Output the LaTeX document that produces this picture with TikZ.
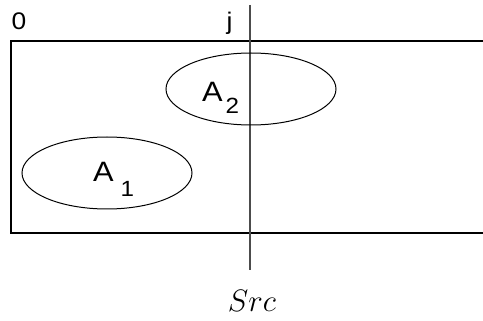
\RequirePackage{fix-cm}
\documentclass[tikz,border=0pt]{standalone}
\usepackage{fontspec}
\setmainfont{Liberation Sans}
\usetikzlibrary{shapes.geometric}
\newcommand{\wide}[1]{\scalebox{1.1}[1]{#1}}
\begin{document}
\begin{tikzpicture}[x=1pt,y=-1pt,
  setbox/.style={draw, ellipse, line width=1pt, minimum width=170pt, minimum height=72pt, inner sep=0pt},
  setname/.style={font=\fontsize{28}{28}\selectfont, inner sep=0pt, anchor=base west},
  idx/.style={font=\fontsize{24}{24}\selectfont, inner sep=0pt, anchor=base}]
  \useasboundingbox (0,0) rectangle (483,321);
  \clip (0,0) rectangle (483,321);
  % array frame, open on the right
  \draw[line width=1.7pt] (11,41) rectangle (500,233);
  % column j
  \coordinate (jtop) at (250,5);
  \coordinate (jbot) at (250,270);
  \draw[line width=1.3pt, black!70] (jtop) -- (jbot);
  \node[idx] (zero) at (19,30) {\wide{0}};
  \node[idx] (jcol) at (229.5,30) {\wide{j}};
  % the two sets
  \node[setbox] (a2) at (251,89) {};
  \node[setbox] (a1) at (107,173) {};
  \node[setname] (a2name) at (202,102) {\wide{A}\hspace{3pt}\raisebox{-11.5pt}{\fontsize{22}{22}\selectfont\wide{2}}};
  \node[setname] (a1name) at (93,182) {\wide{A}\hspace{7pt}\raisebox{-14.5pt}{\fontsize{22}{22}\selectfont\wide{1}}};
  \node[font=\fontsize{31}{31}\selectfont, inner sep=0pt, anchor=base] (src) at (252,311) {$Src$};
\end{tikzpicture}
\end{document}
